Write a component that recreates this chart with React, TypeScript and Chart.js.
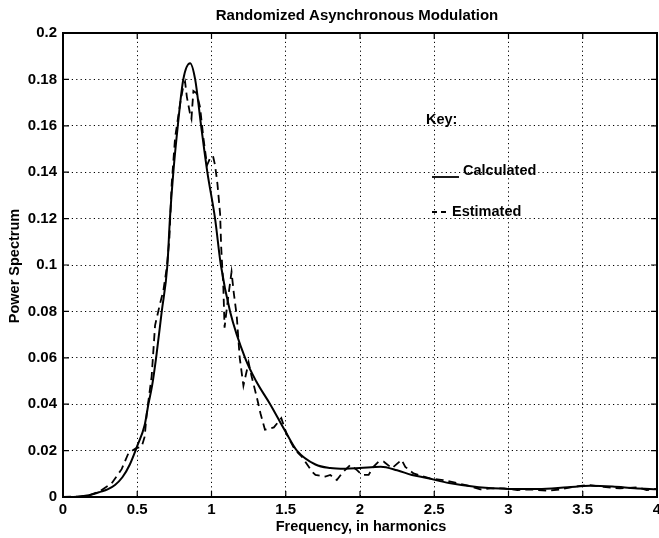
import React, { useEffect, useRef } from "react";
import { Chart, registerables } from "chart.js";

Chart.register(...registerables);

const TITLE = "Randomized Asynchronous Modulation";
const X_TITLE = "Frequency, in harmonics";
const Y_TITLE = "Power Spectrum";
const LEGEND_KEY = "Key:";
const LEGEND_CALC = "Calculated";
const LEGEND_EST = "Estimated";

const X_MIN = 0;
const X_MAX = 4;
const X_STEP = 0.5;
const Y_MIN = 0;
const Y_MAX = 0.2;
const Y_STEP = 0.02;

// Calculated (solid) spectrum
const calcFreq = [0, 0.1, 0.15, 0.2, 0.25, 0.3, 0.35, 0.4, 0.45, 0.5, 0.55, 0.575, 0.6, 0.627, 0.665, 0.703, 0.72, 0.743, 0.773, 0.81, 0.856, 0.89, 0.93, 0.972, 1.024, 1.063, 1.125, 1.226, 1.3, 1.395, 1.5, 1.575, 1.7, 1.8, 1.9, 2.0, 2.14, 2.25, 2.35, 2.45, 2.6, 2.8, 3.0, 3.2, 3.4, 3.55, 3.7, 3.85, 4.0];
const calcPower = [0, 0.0001, 0.0005, 0.0012, 0.0022, 0.0033, 0.0052, 0.0085, 0.014, 0.022, 0.031, 0.04, 0.048, 0.06, 0.08, 0.1, 0.12, 0.14, 0.16, 0.18, 0.187, 0.18, 0.16, 0.14, 0.12, 0.1, 0.08, 0.06, 0.05, 0.04, 0.028, 0.02, 0.014, 0.0125, 0.0122, 0.0125, 0.013, 0.0115, 0.0095, 0.0082, 0.006, 0.0042, 0.0035, 0.0034, 0.0042, 0.0048, 0.0045, 0.0038, 0.0033];

// Estimated (dashed) spectrum
const estFreq = [0, 0.1, 0.18, 0.25, 0.328, 0.395, 0.44, 0.49, 0.53, 0.55, 0.564, 0.597, 0.62, 0.654, 0.676, 0.699, 0.716, 0.732, 0.755, 0.79, 0.81, 0.822, 0.834, 0.856, 0.865, 0.878, 0.9, 0.923, 0.945, 0.97, 0.99, 1.01, 1.024, 1.04, 1.058, 1.065, 1.08, 1.088, 1.11, 1.135, 1.15, 1.17, 1.19, 1.215, 1.25, 1.27, 1.305, 1.33, 1.36, 1.42, 1.47, 1.507, 1.56, 1.608, 1.676, 1.7, 1.766, 1.8, 1.844, 1.878, 1.934, 1.98, 2.013, 2.058, 2.09, 2.125, 2.16, 2.215, 2.28, 2.305, 2.36, 2.43, 2.47, 2.56, 2.61, 2.72, 2.81, 2.88, 2.97, 3.06, 3.15, 3.26, 3.35, 3.44, 3.53, 3.64, 3.75, 3.87, 3.93, 4.0];
const estPower = [0, 0.0002, 0.0008, 0.0025, 0.0059, 0.012, 0.0188, 0.021, 0.0217, 0.026, 0.036, 0.052, 0.074, 0.0835, 0.089, 0.099, 0.111, 0.135, 0.155, 0.17, 0.177, 0.179, 0.1725, 0.165, 0.163, 0.175, 0.174, 0.168, 0.155, 0.143, 0.146, 0.147, 0.143, 0.135, 0.122, 0.108, 0.09, 0.073, 0.085, 0.097, 0.088, 0.078, 0.06, 0.048, 0.058, 0.052, 0.043, 0.036, 0.029, 0.03, 0.034, 0.027, 0.0205, 0.0174, 0.011, 0.0095, 0.0088, 0.0095, 0.0073, 0.0102, 0.0138, 0.0116, 0.0095, 0.0095, 0.013, 0.0152, 0.0152, 0.0124, 0.016, 0.013, 0.0102, 0.0088, 0.008, 0.0073, 0.0066, 0.005, 0.0033, 0.0037, 0.0037, 0.003, 0.0033, 0.0027, 0.0033, 0.0044, 0.0052, 0.0044, 0.0037, 0.0042, 0.003, 0.0035];

const FONT = "'Liberation Sans', Arial, Helvetica, sans-serif";

const fmt = (v: number) => String(Number(Number(v).toFixed(3)));

const decorPlugin = {
  id: "decor",
  afterDraw(chart: any) {
    const { ctx, chartArea: a, scales } = chart;
    const xs = scales.x;
    const ys = scales.y;
    ctx.save();
    // inward tick marks
    ctx.strokeStyle = "#000";
    ctx.lineWidth = 1.2;
    ctx.setLineDash([]);
    const tl = 6;
    ctx.beginPath();
    xs.ticks.forEach((t: any) => {
      const px = xs.getPixelForValue(t.value);
      ctx.moveTo(px, a.bottom);
      ctx.lineTo(px, a.bottom - tl);
      ctx.moveTo(px, a.top);
      ctx.lineTo(px, a.top + tl);
    });
    ys.ticks.forEach((t: any) => {
      const py = ys.getPixelForValue(t.value);
      ctx.moveTo(a.left, py);
      ctx.lineTo(a.left + tl, py);
      ctx.moveTo(a.right, py);
      ctx.lineTo(a.right - tl, py);
    });
    ctx.stroke();
    // box
    ctx.lineWidth = 2;
    ctx.strokeRect(a.left, a.top, a.right - a.left, a.bottom - a.top);

    ctx.fillStyle = "#000";
    ctx.font = `bold 15px ${FONT}`;
    ctx.textBaseline = "middle";
    // title
    ctx.textAlign = "center";
    ctx.fillText(TITLE, 357, 16);
    // x title
    ctx.font = `bold 14.5px ${FONT}`;
    ctx.fillText(X_TITLE, 361, 527);
    // y title
    ctx.save();
    ctx.translate(15, 266);
    ctx.rotate(-Math.PI / 2);
    ctx.fillText(Y_TITLE, 0, 0);
    ctx.restore();
    // legend
    ctx.textAlign = "left";
    ctx.font = `bold 14.5px ${FONT}`;
    ctx.fillText(LEGEND_KEY, 426, 120);
    ctx.fillText(LEGEND_CALC, 463, 171);
    ctx.fillText(LEGEND_EST, 452, 212);
    ctx.lineWidth = 1.8;
    ctx.beginPath();
    ctx.moveTo(432, 177);
    ctx.lineTo(459, 177);
    ctx.stroke();
    ctx.setLineDash([5, 4]);
    ctx.beginPath();
    ctx.moveTo(432, 212);
    ctx.lineTo(449, 212);
    ctx.stroke();
    ctx.restore();
  },
};

export default function App() {
  const ref = useRef<HTMLCanvasElement>(null);
  useEffect(() => {
    if (!ref.current) return;
    const calcData = calcFreq.map((x, i) => ({ x, y: calcPower[i] }));
    const estData = estFreq.map((x, i) => ({ x, y: estPower[i] }));
    const chart = new Chart(ref.current, {
      type: "line",
      data: {
        datasets: [
          {
            label: LEGEND_CALC,
            data: calcData,
            borderColor: "#000",
            borderWidth: 2,
            pointRadius: 0,
            cubicInterpolationMode: "monotone",
            fill: false,
          },
          {
            label: LEGEND_EST,
            data: estData,
            borderColor: "#000",
            borderWidth: 1.8,
            borderDash: [8, 5],
            pointRadius: 0,
            tension: 0,
            fill: false,
          },
        ],
      },
      options: {
        animation: false,
        responsive: false,
        devicePixelRatio: 1,
        layout: { padding: { top: 33, right: 2, bottom: 0, left: 0 } },
        plugins: {
          legend: { display: false },
          title: { display: false },
          tooltip: { enabled: false },
        },
        scales: {
          x: {
            type: "linear",
            min: X_MIN,
            max: X_MAX,
            ticks: {
              stepSize: X_STEP,
              color: "#000",
              font: { family: FONT, size: 15, weight: "bold" },
              padding: 4,
              maxRotation: 0,
              autoSkip: false,
              callback: (v: any) => fmt(v),
            },
            grid: {
              color: "#000",
              lineWidth: 1,
              drawTicks: false,
            },
            border: { display: false, dash: [1.2, 3.2] },
            afterFit: (s: any) => {
              s.height = 41;
              s.paddingLeft = 0;
              s.paddingRight = 0;
            },
          },
          y: {
            type: "linear",
            min: Y_MIN,
            max: Y_MAX,
            ticks: {
              stepSize: Y_STEP,
              color: "#000",
              font: { family: FONT, size: 15, weight: "bold" },
              padding: 6,
              autoSkip: false,
              callback: (v: any) => fmt(v),
            },
            grid: {
              color: "#000",
              lineWidth: 1,
              drawTicks: false,
            },
            border: { display: false, dash: [1.2, 3.2] },
            afterFit: (s: any) => {
              s.width = 63;
              s.paddingTop = 0;
              s.paddingBottom = 0;
            },
          },
        },
      },
      plugins: [decorPlugin],
    } as any);
    return () => chart.destroy();
  }, []);
  return (
    <div style={{ position: "fixed", left: 0, top: 0, width: 659, height: 538, background: "#fff" }}>
      <canvas ref={ref} width={659} height={538} style={{ display: "block" }} />
    </div>
  );
}
